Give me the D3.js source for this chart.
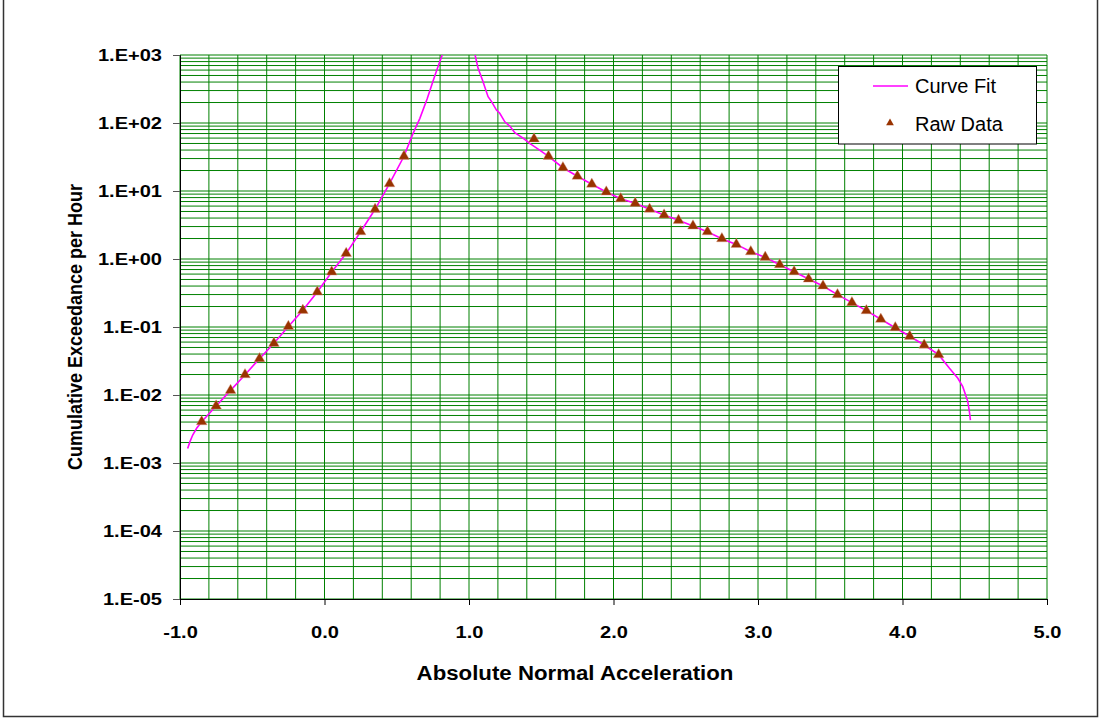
<!DOCTYPE html>
<html>
<head>
<meta charset="utf-8">
<script src="https://cdn.jsdelivr.net/npm/d3@7"></script>
<style>
  html, body { margin: 0; padding: 0; background: #fff; }
  svg text { font-family: "Liberation Sans", Arial, sans-serif; }
</style>
</head>
<body>
<svg id="chart" width="1103" height="719"></svg>
<script>
// ---- data ----
const xTickValues = [-1, 0, 1, 2, 3, 4, 5];
const xTickLabels = ["-1.0", "0.0", "1.0", "2.0", "3.0", "4.0", "5.0"];
const yTickValues = [1e3, 1e2, 1e1, 1e0, 1e-1, 1e-2, 1e-3, 1e-4, 1e-5];
const yTickLabels = ["1.E+03", "1.E+02", "1.E+01", "1.E+00", "1.E-01", "1.E-02", "1.E-03", "1.E-04", "1.E-05"];

// Curve Fit, left branch
const curveLeftX = [-0.947, -0.931, -0.912, -0.885, -0.85, -0.75, -0.65, -0.55, -0.45, -0.35, -0.25, -0.15, -0.05, 0.05, 0.15, 0.25, 0.35, 0.45, 0.55, 0.61, 0.66, 0.71, 0.76, 0.79, 0.815];
const curveLeftY = [0.00164, 0.00206, 0.00258, 0.00324, 0.00405, 0.00689, 0.0117, 0.0199, 0.0342, 0.0576, 0.102, 0.176, 0.327, 0.644, 1.21, 2.52, 5.38, 12.8, 32.4, 68, 117, 225, 470, 720, 1000];
// Curve Fit, right branch
const curveRightX = [1.042, 1.063, 1.093, 1.132, 1.156, 1.19, 1.213, 1.248, 1.282, 1.317, 1.374, 1.42, 1.489, 1.55, 1.65, 1.75, 1.85, 1.95, 2.05, 2.15, 2.25, 2.35, 2.45, 2.55, 2.65, 2.75, 2.85, 2.95, 3.05, 3.15, 3.25, 3.35, 3.45, 3.55, 3.65, 3.75, 3.85, 3.95, 4.05, 4.15, 4.25, 4.325, 4.383, 4.417, 4.441, 4.452, 4.463, 4.47];
const curveRightY = [1000, 637, 428, 244, 206, 155, 139, 104, 90, 72, 60, 50, 40, 32.4, 22.0, 16.5, 12.6, 9.67, 7.7, 6.59, 5.4, 4.44, 3.71, 3.06, 2.52, 1.99, 1.64, 1.28, 1.06, 0.824, 0.650, 0.508, 0.401, 0.299, 0.228, 0.174, 0.130, 0.0977, 0.073, 0.0543, 0.0392, 0.0247, 0.0176, 0.01325, 0.00944, 0.008, 0.00567, 0.00428];

// Raw Data
const rawX = [-0.85, -0.75, -0.65, -0.55, -0.45, -0.35, -0.25, -0.15, -0.05, 0.05, 0.15, 0.25, 0.35, 0.45, 0.55,
              1.45, 1.55, 1.65, 1.75, 1.85, 1.95, 2.05, 2.15, 2.25, 2.35, 2.45, 2.55, 2.65, 2.75, 2.85, 2.95, 3.05, 3.15, 3.25, 3.35, 3.45, 3.55, 3.65, 3.75, 3.85, 3.95, 4.05, 4.15, 4.25];
const rawY = [0.00405, 0.00689, 0.0117, 0.0199, 0.0342, 0.0576, 0.102, 0.176, 0.327, 0.644, 1.21, 2.52, 5.38, 12.8, 32.4,
              58.2, 32.4, 22.0, 16.5, 12.6, 9.67, 7.7, 6.59, 5.4, 4.44, 3.71, 3.06, 2.52, 1.99, 1.64, 1.28, 1.06, 0.824, 0.650, 0.508, 0.401, 0.299, 0.228, 0.174, 0.130, 0.0977, 0.073, 0.0543, 0.0392];

const seriesNames = ["Curve Fit", "Raw Data"];
const xTitle = "Absolute Normal Acceleration";
const yTitle = "Cumulative Exceedance per Hour";

// ---- layout ----
const svg = d3.select("#chart");
const L = 180, R = 1047, T = 55, B = 599;
const gridColor = "#008000";
const curveColor = "#FF00FF";
const markerColor = "#993300";
const FONT = "Liberation Sans, Arial, sans-serif";
const SX = 1.18; // horizontal stretch of the reference's tick text

const x = d3.scaleLinear().domain([-1, 5]).range([L, R]);
const y = d3.scaleLog().domain([1e-5, 1e3]).range([B, T]);

// outer border
svg.append("rect").attr("x", 3.5).attr("y", -5).attr("width", 1094).attr("height", 721.5)
  .attr("fill", "none").attr("stroke", "#333").attr("stroke-width", 1.5);

// grid
const grid = svg.append("g");
const xGrid = d3.range(0, 31).map(i => -1 + i * 0.2);
grid.selectAll("line.vx").data(xGrid).enter().append("line")
  .attr("x1", d => x(d)).attr("x2", d => x(d)).attr("y1", T).attr("y2", B)
  .attr("stroke", gridColor).attr("stroke-width", 1);
const yGrid = [];
for (let e = -5; e < 3; e++) for (let m = 1; m <= 9; m++) yGrid.push(m * Math.pow(10, e));
yGrid.push(1e3);
grid.selectAll("line.hy").data(yGrid).enter().append("line")
  .attr("x1", L).attr("x2", R).attr("y1", d => y(d)).attr("y2", d => y(d))
  .attr("stroke", gridColor).attr("stroke-width", 1);

// axes
const xAxis = d3.axisBottom(x).tickValues(xTickValues)
  .tickFormat((d, i) => xTickLabels[i]).tickSize(6).tickPadding(21);
const gx = svg.append("g").attr("transform", `translate(0,${B})`).call(xAxis);
gx.select(".domain").attr("stroke", "#000");
gx.selectAll(".tick line").attr("stroke", "#000");
gx.selectAll(".tick text").attr("font-size", 17).attr("font-weight", "bold").attr("fill", "#000")
  .attr("font-family", FONT).attr("transform", `scale(${SX},1)`);

const yAxis = d3.axisLeft(y).tickValues(yTickValues)
  .tickFormat((d, i) => yTickLabels[i]).tickSize(7).tickPadding(11);
const gy = svg.append("g").attr("transform", `translate(${L},0)`).call(yAxis);
gy.select(".domain").attr("stroke", "#000");
gy.selectAll(".tick line").attr("stroke", "#555");
gy.selectAll(".tick text").attr("font-size", 17).attr("font-weight", "bold").attr("fill", "#000")
  .attr("font-family", FONT).attr("x", -18 / SX).attr("transform", `scale(${SX},1)`);

// titles
svg.append("text").attr("transform", `translate(575,680) scale(1.06,1)`).attr("text-anchor", "middle")
  .attr("font-size", 21).attr("font-weight", "bold").text(xTitle);
svg.append("text").attr("transform", `translate(82,${(T + B) / 2}) rotate(-90) scale(1,1.12)`).attr("text-anchor", "middle")
  .attr("font-size", 18).attr("font-weight", "bold").text(yTitle);

// curve
svg.append("clipPath").attr("id", "clip").append("rect")
  .attr("x", L).attr("y", T).attr("width", R - L).attr("height", B - T);
const line = d3.line().x(d => x(d[0])).y(d => y(d[1]));
const plot = svg.append("g").attr("clip-path", "url(#clip)");
[[curveLeftX, curveLeftY], [curveRightX, curveRightY]].forEach(([xs, ys]) => {
  plot.append("path").datum(xs.map((v, i) => [v, ys[i]]))
    .attr("d", line).attr("fill", "none").attr("stroke", curveColor).attr("stroke-width", 1.6);
});

// markers
const tri = d3.symbol().type(d3.symbolTriangle).size(50);
svg.append("g").selectAll("path").data(rawX.map((v, i) => [v, rawY[i]])).enter().append("path")
  .attr("d", tri).attr("transform", d => `translate(${x(d[0])},${y(d[1])})`)
  .attr("fill", markerColor).attr("stroke", "#d9a08a").attr("stroke-width", 0.4);

// legend
const lg = svg.append("g");
lg.append("rect").attr("x", 838.5).attr("y", 66.5).attr("width", 198).attr("height", 77.5)
  .attr("fill", "#fff").attr("stroke", "#000").attr("stroke-width", 1);
lg.append("line").attr("x1", 873).attr("x2", 908).attr("y1", 86).attr("y2", 86)
  .attr("stroke", curveColor).attr("stroke-width", 1.6);
lg.append("text").attr("x", 915).attr("y", 93).attr("font-size", 20).text(seriesNames[0]);
lg.append("path").attr("d", d3.symbol().type(d3.symbolTriangle).size(26))
  .attr("transform", "translate(890,123)").attr("fill", markerColor);
lg.append("text").attr("x", 915).attr("y", 130.5).attr("font-size", 20).text(seriesNames[1]);
</script>
</body>
</html>
